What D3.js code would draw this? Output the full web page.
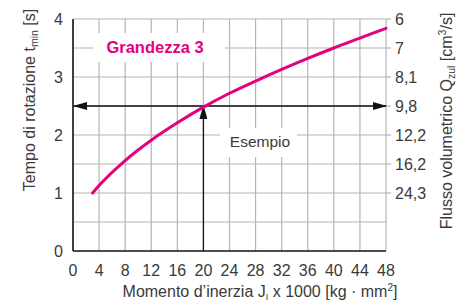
<!DOCTYPE html>
<html><head><meta charset="utf-8">
<script src="https://cdn.jsdelivr.net/npm/d3@7"></script>
<style>body{margin:0;background:#fff;} svg{display:block;font-family:"Liberation Sans",Arial,sans-serif;}</style>
</head><body>
<svg id="c" width="463" height="303"></svg>
<script>
const inertia = [3, 4, 8, 12, 16, 20, 24, 28, 32, 36, 40, 44, 48];
const tmin = [1.0, 1.13, 1.56, 1.91, 2.21, 2.48, 2.72, 2.93, 3.13, 3.32, 3.5, 3.67, 3.84];
const xTicks = [0, 4, 8, 12, 16, 20, 24, 28, 32, 36, 40, 44, 48];
const yTicks = [0, 1, 2, 3, 4];
const flowPos = [4, 3.5, 3, 2.5, 2, 1.5, 1];
const flowLabels = ["6", "7", "8,1", "9,8", "12,2", "16,2", "24,3"];
const example = {x: 20, y: 2.5};

const svg = d3.select("#c");
const x = d3.scaleLinear().domain([0, 48]).range([73, 386]);
const y = d3.scaleLinear().domain([0, 4]).range([251, 19]);
const magenta = "#e5007e", txt = "#3a3a3a", grid = "#b4b4b4";

const defs = svg.append("defs");
defs.append("marker").attr("id","ah").attr("viewBox","0 0 14 8").attr("refX",13).attr("refY",4)
  .attr("markerWidth",14).attr("markerHeight",8).attr("markerUnits","userSpaceOnUse").attr("orient","auto-start-reverse")
  .append("path").attr("d","M0,0 L14,4 L0,8 Z").attr("fill","#111");

// grid
const g = svg.append("g");
g.selectAll(".vg").data(xTicks.slice(1)).join("line")
  .attr("x1", d => x(d)).attr("x2", d => x(d)).attr("y1", y(4)).attr("y2", y(0))
  .attr("stroke", grid).attr("stroke-width", 1.2);
g.selectAll(".hg").data(d3.range(0.5, 4.01, 0.5)).join("line")
  .attr("x1", x(0)).attr("x2", x(48)).attr("y1", d => y(d)).attr("y2", d => y(d))
  .attr("stroke", grid).attr("stroke-width", 1.2);
g.selectAll(".rt").data(flowPos).join("line")
  .attr("x1", x(48)).attr("x2", x(48) + 5).attr("y1", d => y(d)).attr("y2", d => y(d))
  .attr("stroke", grid).attr("stroke-width", 1.2);

// label boxes
svg.append("rect").attr("x", 93).attr("y", 33).attr("width", 132).attr("height", 29).attr("fill", "#fff");
svg.append("rect").attr("x", 220).attr("y", 128).attr("width", 77).attr("height", 29).attr("fill", "#fff");

// axes lines
svg.append("line").attr("x1", x(0)).attr("x2", x(0)).attr("y1", y(4)).attr("y2", y(0)).attr("stroke", "#111").attr("stroke-width", 1.6);
svg.append("line").attr("x1", x(0)).attr("x2", x(48)).attr("y1", y(0)).attr("y2", y(0)).attr("stroke", "#111").attr("stroke-width", 1.6);

// tick labels
svg.selectAll(".xl").data(xTicks).join("text")
  .attr("x", d => x(d)).attr("y", 276).attr("text-anchor", "middle")
  .attr("font-size", 16).attr("fill", txt).text(d => d);
svg.selectAll(".yl").data(yTicks).join("text")
  .attr("x", 63).attr("y", d => y(d) + 5.5).attr("text-anchor", "end")
  .attr("font-size", 16).attr("fill", txt).text(d => d);
svg.selectAll(".rl").data(flowPos).join("text")
  .attr("x", 395).attr("y", (d) => y(d) + 5.5).attr("text-anchor", "start")
  .attr("font-size", 16).attr("fill", txt).text((d, i) => flowLabels[i]);

// example arrows
svg.append("line").attr("x1", x(example.x)).attr("x2", x(example.x)).attr("y1", y(0)).attr("y2", y(example.y))
  .attr("stroke", "#111").attr("stroke-width", 1.3).attr("marker-end", "url(#ah)");
svg.append("line").attr("x1", x(0) + 1).attr("x2", x(48)).attr("y1", y(example.y)).attr("y2", y(example.y))
  .attr("stroke", "#111").attr("stroke-width", 1.3).attr("marker-start", "url(#ah)").attr("marker-end", "url(#ah)");

// curve
svg.append("path").datum(inertia.map((d, i) => [d, tmin[i]]))
  .attr("d", d3.line().x(d => x(d[0])).y(d => y(d[1])).curve(d3.curveMonotoneX))
  .attr("fill", "none").attr("stroke", magenta).attr("stroke-width", 3).attr("stroke-linecap", "round");

// labels
svg.append("text").attr("x", 155).attr("y", 53).attr("text-anchor", "middle").attr("font-size", 16.5)
  .attr("font-weight", "bold").attr("fill", magenta).text("Grandezza 3");
svg.append("text").attr("x", 260).attr("y", 147).attr("text-anchor", "middle").attr("font-size", 15.5)
  .attr("fill", txt).text("Esempio");

// axis titles
const xt = svg.append("text").attr("x", 260).attr("y", 297).attr("text-anchor", "middle").attr("font-size", 16).attr("fill", txt);
xt.append("tspan").text("Momento d’inerzia J");
xt.append("tspan").attr("font-size", 9).attr("dy", 3).text("I");
xt.append("tspan").attr("dy", -3).text("  x 1000 [kg · mm");
xt.append("tspan").attr("font-size", 10).attr("dy", -6).text("2");
xt.append("tspan").attr("dy", 6).text("]");

const yt = svg.append("text").attr("transform", "translate(35,100) rotate(-90)").attr("text-anchor", "middle").attr("font-size", 16).attr("fill", txt);
yt.append("tspan").text("Tempo di rotazione t");
yt.append("tspan").attr("font-size", 10.5).attr("dy", 3).text("min");
yt.append("tspan").attr("dy", -3).text(" [s]");

const rt = svg.append("text").attr("transform", "translate(452,121) rotate(-90)").attr("text-anchor", "middle").attr("font-size", 16).attr("fill", txt);
rt.append("tspan").text("Flusso volumetrico Q");
rt.append("tspan").attr("font-size", 10.5).attr("dy", 3).text("zul");
rt.append("tspan").attr("dy", -3).text(" [cm");
rt.append("tspan").attr("font-size", 10.5).attr("dy", -6).text("3");
rt.append("tspan").attr("dy", 6).text("/s]");
</script>
</body></html>
